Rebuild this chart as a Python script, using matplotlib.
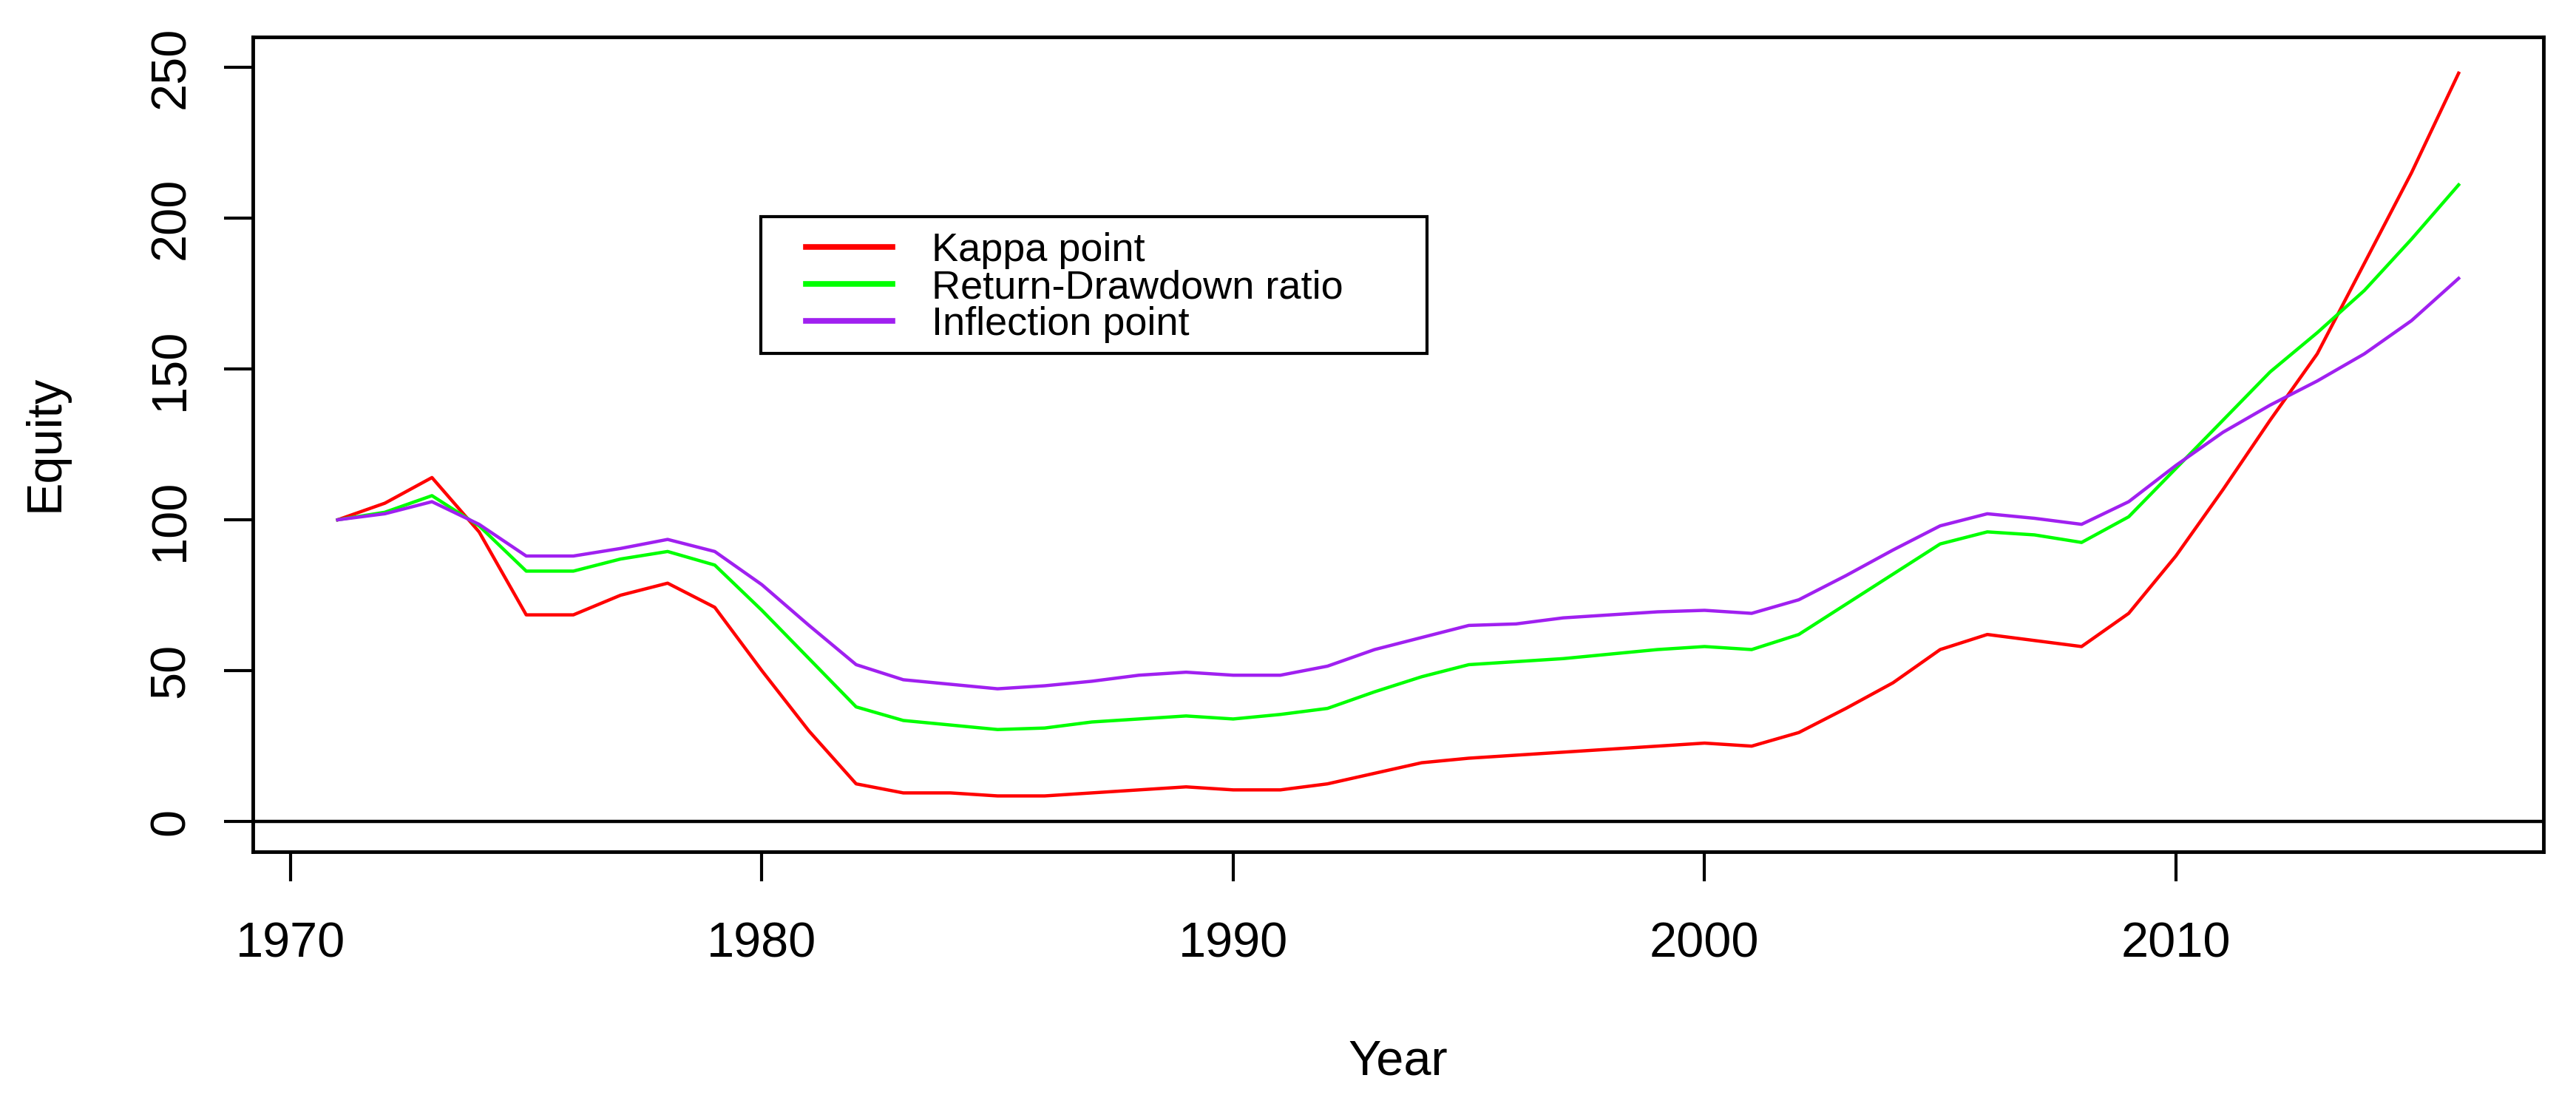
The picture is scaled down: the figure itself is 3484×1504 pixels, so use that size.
import numpy as np
import matplotlib
matplotlib.use('Agg')
import matplotlib.pyplot as plt
from matplotlib.patches import Rectangle

# yearly equity values
years = list(range(1971, 2017))
kappa = [100, 105.5, 114, 96, 68.5, 68.5, 75, 79, 71, 50,
         30, 12.5, 9.5, 9.5, 8.5, 8.5, 9.5, 10.5, 11.5, 10.5,
         10.5, 12.5, 16, 19.5, 21, 22, 23, 24, 25, 26,
         25, 29.5, 37.5, 46, 57, 62, 60, 58, 69, 88,
         110, 133, 155, 185, 215, 248]
return_drawdown = [100, 102.5, 108, 98, 83, 83, 87, 89.5, 85, 70,
                   54, 38, 33.5, 32, 30.5, 31, 33, 34, 35, 34,
                   35.5, 37.5, 43, 48, 52, 53, 54, 55.5, 57, 58,
                   57, 62, 72, 82, 92, 96, 95, 92.5, 101, 117,
                   133, 149, 162, 176, 193, 211]
inflection = [100, 102, 106, 98.5, 88, 88, 90.5, 93.5, 89.5, 78.5,
              65, 52, 47, 45.5, 44, 45, 46.5, 48.5, 49.5, 48.5,
              48.5, 51.5, 57, 61, 65, 65.5, 67.5, 68.5, 69.5, 70,
              69, 73.5, 81.5, 90, 98, 102, 100.5, 98.5, 106, 118,
              129, 138, 146, 155, 166, 180]
labels = ["Kappa point", "Return-Drawdown ratio", "Inflection point"]
colors = ["#FF0000", "#00FF00", "#A020F0"]
x_ticks = [1970, 1980, 1990, 2000, 2010]
y_ticks = [0, 50, 100, 150, 200, 250]

plt.rcParams['font.family'] = ['Liberation Sans', 'DejaVu Sans']

fig = plt.figure(figsize=(34.84, 15.04), dpi=100)
ax = fig.add_axes([0.09816, 0.23404, 0.88921, 0.73271])

for series, lab, col in zip([kappa, return_drawdown, inflection], labels, colors):
    ax.plot(years, series, color=col, linewidth=3.2, label=lab)

ax.axhline(0, color='black', linewidth=3.2)

ax.set_xlim(1969.2, 2017.8)
ax.set_ylim(-10, 260)
ax.set_xticks(x_ticks)
ax.set_yticks(y_ticks)
ax.tick_params(axis='x', length=29, width=3, pad=39, labelsize=48)
ax.tick_params(axis='y', length=28, width=3, pad=29, labelsize=48)
for t in ax.get_yticklabels():
    t.set_rotation(90)
    t.set_va('center')

for sp in ax.spines.values():
    sp.set_linewidth(3.5)

ax.set_xlabel("Year", fontsize=48)
ax.xaxis.label.set_va('center')
ax.xaxis.set_label_coords(0.5, -0.2586)
ax.set_ylabel("Equity", fontsize=48)
ax.yaxis.label.set_va('center')
ax.yaxis.set_label_coords(-0.0904, 0.5018)

# legend without frame, box drawn separately like R's legend()
leg = ax.legend(loc='upper left', bbox_to_anchor=(1090 / 3484, 1 - 314 / 1504),
                bbox_transform=fig.transFigure, frameon=False, fontsize=39,
                borderpad=0, borderaxespad=0, handlelength=2.16,
                handletextpad=0.97, labelspacing=0.0)
for line in leg.get_lines():
    line.set_linewidth(5.5)
fig.patches.append(Rectangle((0.2953, 0.6822), 0.2586, 0.1230,
                             transform=fig.transFigure, fill=False,
                             edgecolor='black', linewidth=3))

fig.savefig('out.png', dpi=100)
